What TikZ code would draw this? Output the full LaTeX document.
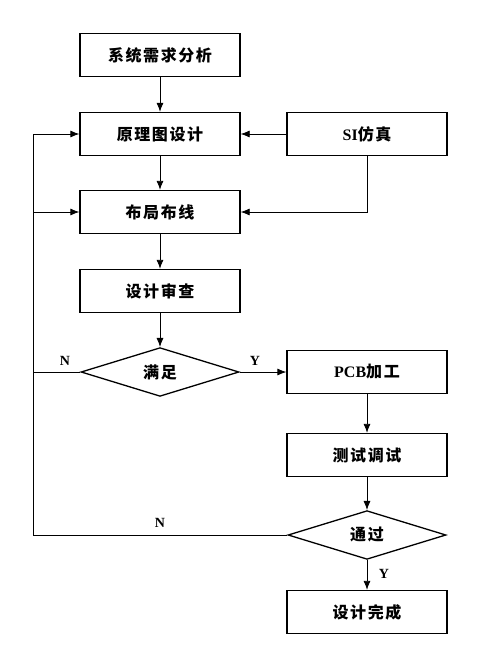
\documentclass[tikz,border=0pt]{standalone}
\usepackage{fontspec}
\setmainfont{Liberation Serif}
\newfontfamily\cjk[LetterSpace=10]{Noto Sans CJK SC}
\usetikzlibrary{shapes.geometric,arrows.meta}

\tikzset{
  stepbox/.style={draw, line width=1.3pt, minimum width=160pt, minimum height=43pt,
    inner sep=0pt, font=\bfseries\fontsize{16}{18}\selectfont},
  choice/.style={draw, diamond, line width=1.3pt, minimum width=158pt, minimum height=48pt,
    inner sep=0pt, font=\bfseries\fontsize{16}{18}\selectfont},
  flow/.style={line width=0.8pt, -{Latex[length=9pt,width=7pt]}},
  yn/.style={font=\bfseries\fontsize{14}{16}\selectfont}
}

\begin{document}
\begin{tikzpicture}[x=1pt,y=-1pt]
        \useasboundingbox (0,0) rectangle (478,650);

        % left column
        \node[stepbox] (xuqiu) at (160,55) {\cjk 系统需求分析};
        \node[stepbox] (yuanli) at (160,134) {\cjk 原理图设计};
        \node[stepbox] (buju) at (160,212) {\cjk 布局布线};
        \node[stepbox] (shencha) at (160,291) {\cjk 设计审查};
        \node[choice] (manzu) at (160,372) {\cjk 满足};

        % right column
        \node[stepbox] (si) at (367,134) {SI{\cjk 仿真}};
        \node[stepbox] (pcb) at (367,372) {PCB{\cjk 加工}};
        \node[stepbox] (ceshi) at (367,455) {\cjk 测试调试};
        \node[choice] (tongguo) at (367,535) {\cjk 通过};
        \node[stepbox] (wancheng) at (367,612) {\cjk 设计完成};

        \coordinate (lb) at (33,535);

        \draw[flow] (xuqiu) -- (yuanli);
        \draw[flow] (yuanli) -- (buju);
        \draw[flow] (buju) -- (shencha);
        \draw[flow] (shencha) -- (manzu);
        \draw[flow] (si) -- (yuanli);
        \draw[flow] (si.south) |- (buju.east);

        \draw[flow] (manzu.east) -- (pcb.west);
        \draw[flow] (pcb) -- (ceshi);
        \draw[flow] (ceshi) -- (tongguo);
        \draw[flow] (tongguo) -- (wancheng);

        % feedback loop
        \draw[flow] (tongguo.west) -- (lb) |- (yuanli.west);
        \draw[flow] (lb |- buju.west) -- (buju.west);
        \draw[line width=0.8pt] (manzu.west) -- (lb |- manzu.west);

        \node[yn] (n1) at (65,361) {N};
        \node[yn] (y1) at (255,361) {Y};
        \node[yn] (n2) at (160,523) {N};
        \node[yn] (y2) at (384,574) {Y};
\end{tikzpicture}
\end{document}
